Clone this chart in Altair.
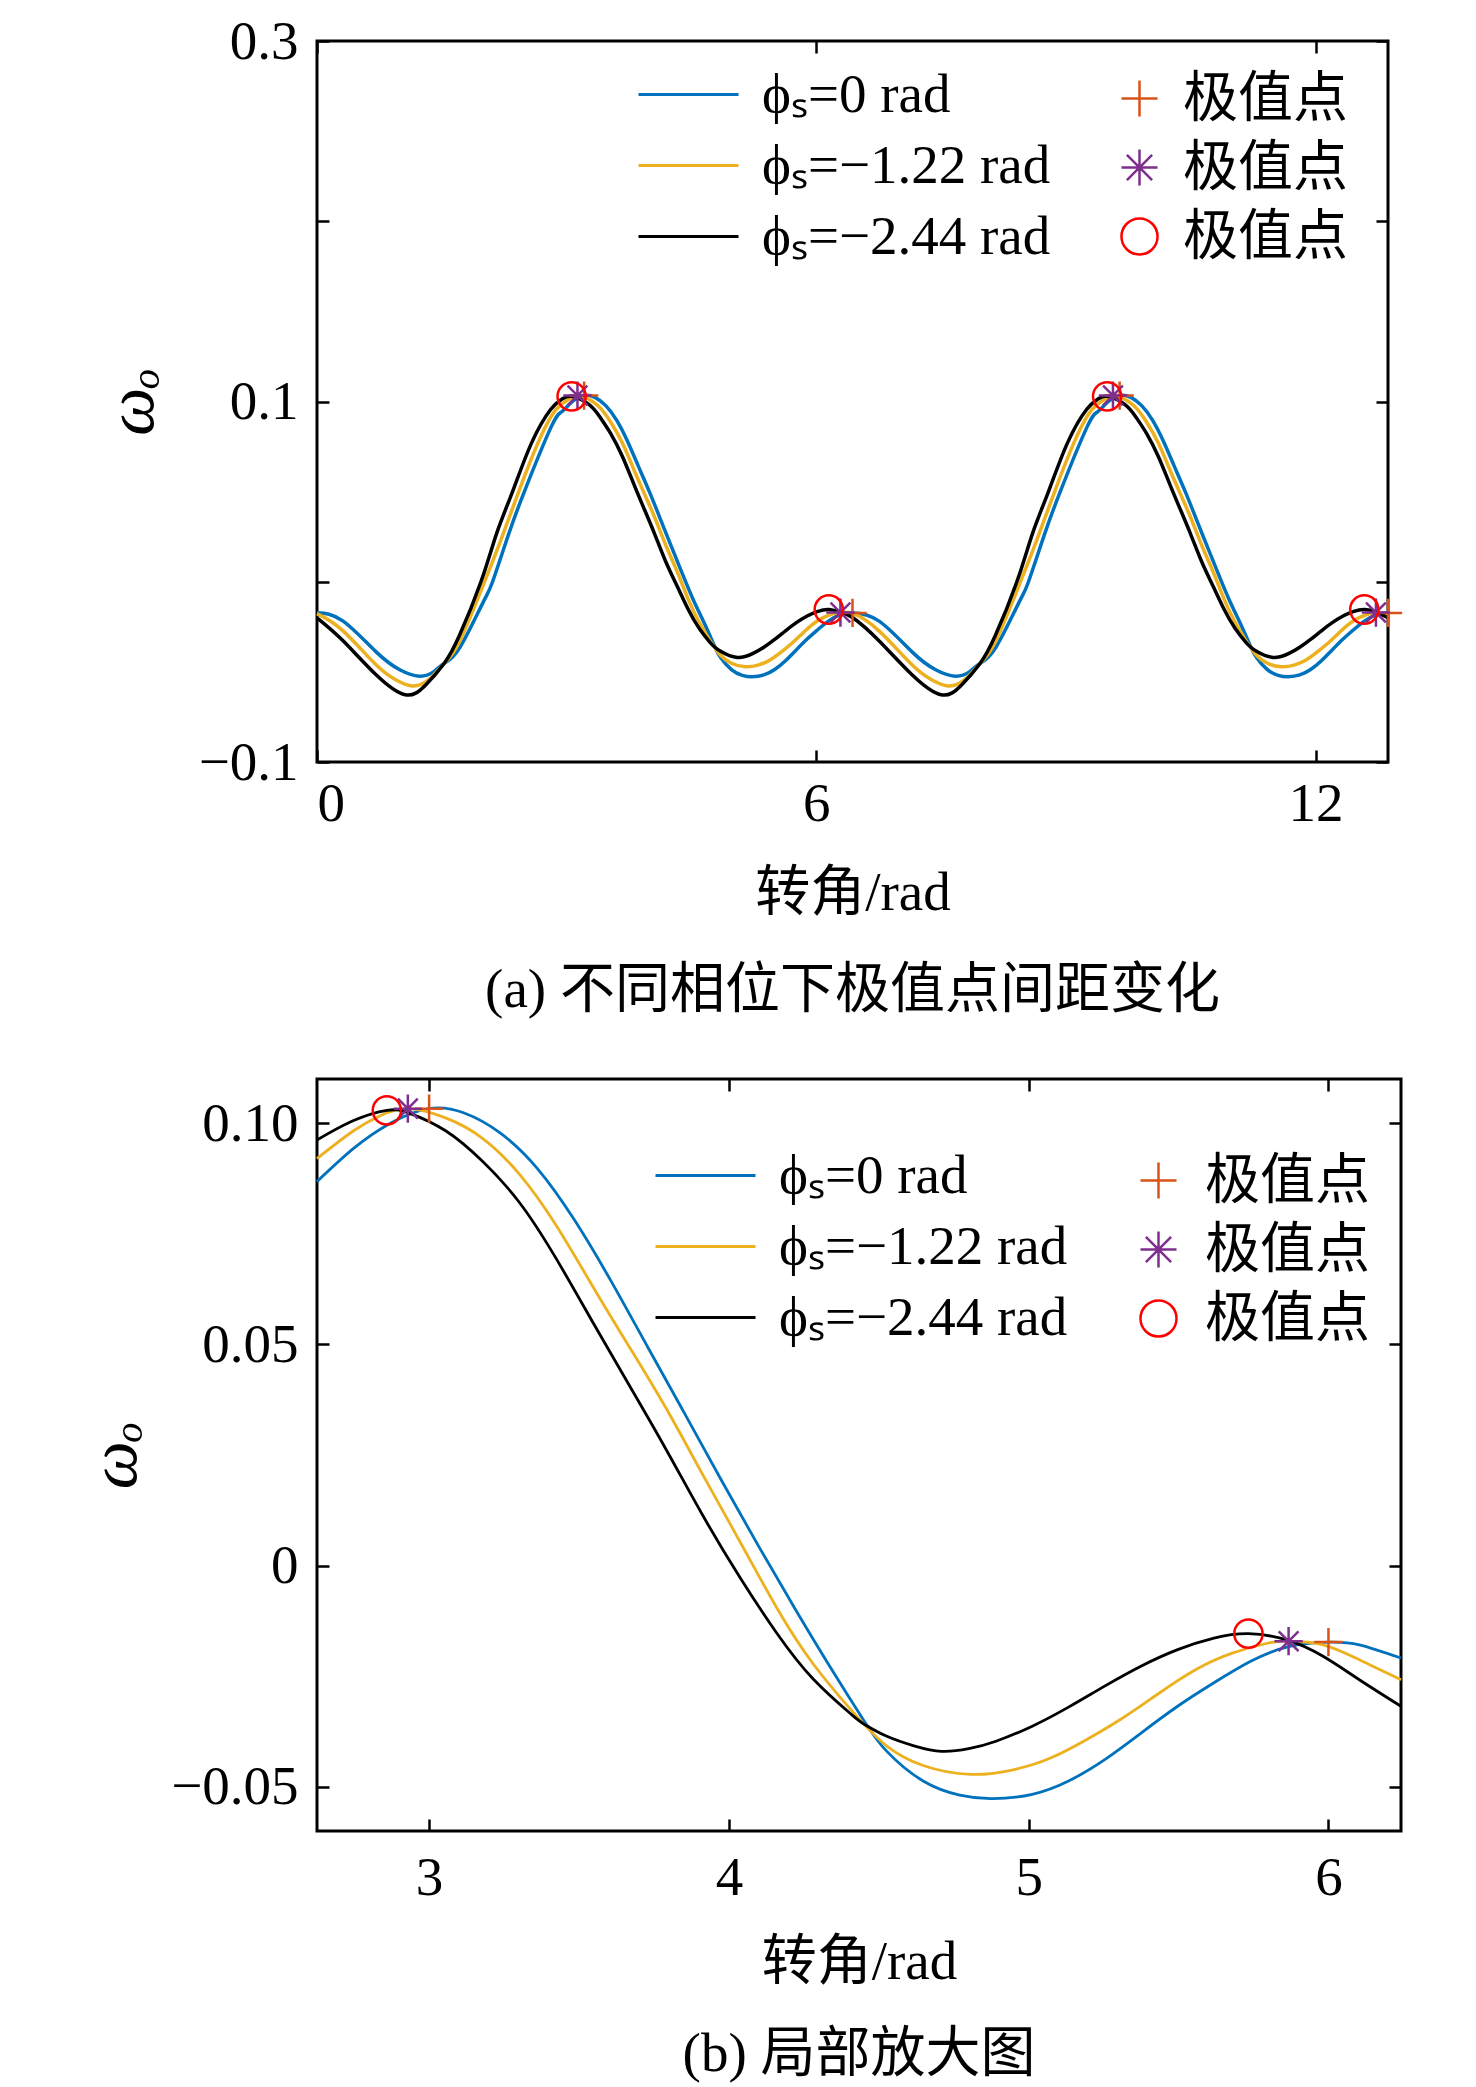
"""
Extreme-point spacing of omega_o for three phase angles:
(a) full range, (b) local zoom. Two stacked MATLAB-style panels.
"""

import altair as alt
import pandas as pd

FONT = "'Liberation Serif', 'Noto Sans CJK SC', serif"
FONT_SIZE = 55
TICK_LEN = 12

SERIES = ["ϕₛ=0 rad", "ϕₛ=−1.22 rad", "ϕₛ=−2.44 rad"]
LINE_COLORS = ["#0072BD", "#EDB120", "#000000"]

MARKERS = ["plus", "star", "circle"]
MARKER_COLORS = ["#D95319", "#7E2F8E", "#FF0000"]
MARKER_SHAPES = [
    "M-1,0L1,0M0,-1L0,1",
    "M-1,0L1,0M0,-1L0,1M-0.7,-0.7L0.7,0.7M-0.7,0.7L0.7,-0.7",
    "circle",
]

# ---------------- panel (a): full range ----------------
A_THETA_BLUE = [0.00, 0.31, 0.71, 1.00, 1.23, 1.40, 1.53, 1.71, 1.99, 2.11, 2.30, 2.50, 2.81, 2.94,
                3.07, 3.21, 3.34, 3.47, 3.60, 3.73, 3.86, 4.00, 4.13, 4.26, 4.39, 4.52, 4.66, 4.77,
                4.85, 4.98, 5.11, 5.23, 5.37, 5.50, 5.63, 5.76, 5.89, 6.02, 6.15, 6.29, 6.44,
                6.75, 7.15, 7.44, 7.67, 7.84, 7.97, 8.15, 8.43, 8.55, 8.74, 8.94, 9.25, 9.38,
                9.51, 9.65, 9.78, 9.91, 10.04, 10.17, 10.30, 10.44, 10.57, 10.70, 10.83, 10.96, 11.10,
                11.21, 11.29, 11.42, 11.55, 11.67, 11.81, 11.94, 12.07, 12.20, 12.33, 12.46, 12.59,
                12.73, 12.87]
A_W_BLUE = [-0.0172, -0.0217, -0.0389, -0.0490, -0.0524, -0.0500, -0.0452, -0.0370, -0.0120, 0.0000,
            0.0260, 0.0510, 0.0855, 0.0943, 0.1000, 0.1033, 0.1023, 0.0977, 0.0897, 0.0781, 0.0643,
            0.0493, 0.0343, 0.0193, 0.0045, -0.0098, -0.0236, -0.0350, -0.0420, -0.0487, -0.0519,
            -0.0527, -0.0517, -0.0487, -0.0438, -0.0378, -0.0318, -0.0265, -0.0217, -0.0183, -0.0173,
            -0.0217, -0.0389, -0.0490, -0.0524, -0.0500, -0.0452, -0.0370, -0.0120, 0.0000,
            0.0260, 0.0510, 0.0855, 0.0943, 0.1000, 0.1033, 0.1023, 0.0977, 0.0897, 0.0781, 0.0643,
            0.0493, 0.0343, 0.0193, 0.0045, -0.0098, -0.0236, -0.0350, -0.0420, -0.0487, -0.0519,
            -0.0527, -0.0517, -0.0487, -0.0438, -0.0378, -0.0318, -0.0265, -0.0217, -0.0183, -0.0173]

A_THETA_YELLOW = [0.00, 0.31, 0.71, 0.95, 1.15, 1.35, 1.53, 1.71, 1.99, 2.20, 2.44, 2.65, 2.81, 2.94,
                  3.13, 3.27, 3.40, 3.53, 3.67, 3.80, 3.93, 4.06, 4.19, 4.33, 4.46, 4.59, 4.72, 4.77,
                  4.85, 4.98, 5.15, 5.31, 5.44, 5.57, 5.70, 5.83, 5.96, 6.09, 6.22, 6.29, 6.44,
                  6.75, 7.15, 7.39, 7.59, 7.79, 7.97, 8.15, 8.43, 8.64, 8.88, 9.09, 9.25, 9.38,
                  9.57, 9.71, 9.84, 9.97, 10.11, 10.24, 10.37, 10.50, 10.63, 10.77, 10.90, 11.03, 11.16,
                  11.21, 11.29, 11.42, 11.59, 11.75, 11.88, 12.01, 12.14, 12.27, 12.40, 12.53, 12.66,
                  12.73, 12.87]
A_W_YELLOW = [-0.0177, -0.0271, -0.0461, -0.0545, -0.0578, -0.0540, -0.0452, -0.0334, -0.0027, 0.0220,
              0.0520, 0.0765, 0.0915, 0.0985, 0.1033, 0.1012, 0.0966, 0.0885, 0.0770, 0.0631, 0.0493,
              0.0355, 0.0204, 0.0054, -0.0096, -0.0223, -0.0325, -0.0358, -0.0408, -0.0452, -0.0472,
              -0.0461, -0.0435, -0.0393, -0.0344, -0.0288, -0.0235, -0.0198, -0.0175, -0.0171, -0.0177,
              -0.0271, -0.0461, -0.0545, -0.0578, -0.0540, -0.0452, -0.0334, -0.0027, 0.0220,
              0.0520, 0.0765, 0.0915, 0.0985, 0.1033, 0.1012, 0.0966, 0.0885, 0.0770, 0.0631, 0.0493,
              0.0355, 0.0204, 0.0054, -0.0096, -0.0223, -0.0325, -0.0358, -0.0408, -0.0452, -0.0472,
              -0.0461, -0.0435, -0.0393, -0.0344, -0.0288, -0.0235, -0.0198, -0.0175, -0.0171, -0.0177]

A_THETA_BLACK = [0.00, 0.31, 0.71, 1.06, 1.30, 1.53, 1.71, 1.97, 2.16, 2.35, 2.58, 2.81, 2.94, 3.06,
                 3.27, 3.40, 3.53, 3.67, 3.80, 3.93, 4.06, 4.19, 4.33, 4.46, 4.59, 4.72, 4.77, 4.85,
                 5.05, 5.24, 5.37, 5.50, 5.63, 5.76, 5.89, 6.02, 6.15, 6.29, 6.44,
                 6.75, 7.15, 7.50, 7.74, 7.97, 8.15, 8.41, 8.60, 8.79, 9.02, 9.25, 9.38, 9.50,
                 9.71, 9.84, 9.97, 10.11, 10.24, 10.37, 10.50, 10.63, 10.77, 10.90, 11.03, 11.16, 11.21,
                 11.29, 11.49, 11.68, 11.81, 11.94, 12.07, 12.20, 12.33, 12.46, 12.59, 12.73, 12.87]
A_W_BLACK = [-0.0200, -0.0326, -0.0516, -0.0627, -0.0575, -0.0452, -0.0300, 0.0000, 0.0270, 0.0500,
             0.0772, 0.0957, 0.1012, 0.1029, 0.0983, 0.0914, 0.0822, 0.0695, 0.0550, 0.0406, 0.0262,
             0.0112, -0.0027, -0.0153, -0.0257, -0.0335, -0.0358, -0.0386, -0.0420, -0.0397, -0.0363,
             -0.0320, -0.0272, -0.0227, -0.0190, -0.0164, -0.0154, -0.0168, -0.0200,
             -0.0326, -0.0516, -0.0627, -0.0575, -0.0452, -0.0300, 0.0000, 0.0270, 0.0500,
             0.0772, 0.0957, 0.1012, 0.1029, 0.0983, 0.0914, 0.0822, 0.0695, 0.0550, 0.0406, 0.0262,
             0.0112, -0.0027, -0.0153, -0.0257, -0.0335, -0.0358, -0.0386, -0.0420, -0.0397, -0.0363,
             -0.0320, -0.0272, -0.0227, -0.0190, -0.0164, -0.0154, -0.0168, -0.0200]

A_PLUS_THETA = [3.21, 6.435, 9.645, 12.87]
A_PLUS_W = [0.1033, -0.0173, 0.1033, -0.0173]
A_STAR_THETA = [3.13, 6.29, 9.565, 12.725]
A_STAR_W = [0.1033, -0.0171, 0.1033, -0.0171]
A_CIRCLE_THETA = [3.06, 6.15, 9.495, 12.585]
A_CIRCLE_W = [0.1029, -0.0154, 0.1029, -0.0154]

A_X_DOMAIN = [0, 12.87]
A_Y_DOMAIN = [-0.1, 0.3]
A_X_TICKS = [0, 6, 12]
A_Y_TICKS = [-0.1, 0, 0.1, 0.2, 0.3]

# ---------------- panel (b): local zoom ----------------
B_THETA_BLUE = [2.626, 2.748, 2.871, 3.000, 3.117, 3.239, 3.362, 3.485, 3.607, 3.730, 3.853, 3.975,
                4.098, 4.221, 4.344, 4.450, 4.527, 4.648, 4.770, 4.879, 5.012, 5.133, 5.255,
                5.376, 5.497, 5.618, 5.739, 5.867, 6.000, 6.103, 6.242]
B_W_BLUE = [0.0868, 0.0943, 0.1000, 0.1033, 0.1023, 0.0977, 0.0897, 0.0781, 0.0643, 0.0493, 0.0343,
            0.0193, 0.0045, -0.0098, -0.0236, -0.0350, -0.0420, -0.0487, -0.0519, -0.0527,
            -0.0517, -0.0487, -0.0438, -0.0378, -0.0318, -0.0265, -0.0217, -0.0183, -0.0173, -0.0179,
            -0.0209]

B_THETA_YELLOW = [2.626, 2.748, 2.840, 2.929, 3.055, 3.178, 3.301, 3.423, 3.546, 3.669, 3.791, 3.914,
                  4.037, 4.160, 4.282, 4.406, 4.450, 4.527, 4.648, 4.806, 4.952, 5.073, 5.194, 5.315,
                  5.436, 5.558, 5.679, 5.800, 5.867, 5.982, 6.103, 6.242]
B_W_YELLOW = [0.0920, 0.0983, 0.1018, 0.1033, 0.1012, 0.0966, 0.0885, 0.0770, 0.0631, 0.0493, 0.0355,
              0.0204, 0.0054, -0.0096, -0.0223, -0.0325, -0.0358, -0.0408, -0.0452, -0.0472, -0.0461,
              -0.0435, -0.0393, -0.0344, -0.0288, -0.0235, -0.0198, -0.0175, -0.0171, -0.0179, -0.0213,
              -0.0258]

B_THETA_BLACK = [2.626, 2.748, 2.859, 2.933, 3.055, 3.178, 3.300, 3.423, 3.546, 3.669, 3.791, 3.914,
                 4.037, 4.160, 4.282, 4.406, 4.450, 4.527, 4.620, 4.709, 4.800, 4.891, 5.012, 5.133,
                 5.255, 5.376, 5.497, 5.618, 5.733, 5.861, 5.982, 6.103, 6.242]
B_W_BLACK = [0.0962, 0.1006, 0.1029, 0.1023, 0.0983, 0.0914, 0.0822, 0.0695, 0.0550, 0.0406, 0.0262,
             0.0112, -0.0027, -0.0153, -0.0257, -0.0335, -0.0358, -0.0386, -0.0408, -0.0420, -0.0414,
             -0.0397, -0.0363, -0.0320, -0.0272, -0.0227, -0.0190, -0.0164, -0.0154, -0.0168, -0.0205,
             -0.0258, -0.0318]

B_PLUS_THETA = [3.000, 6.000]
B_PLUS_W = [0.1033, -0.0173]
B_STAR_THETA = [2.929, 5.867]
B_STAR_W = [0.1033, -0.0171]
B_CIRCLE_THETA = [2.859, 5.733]
B_CIRCLE_W = [0.1029, -0.0154]

B_X_DOMAIN = [2.626, 6.242]
B_Y_DOMAIN = [-0.06, 0.11]
B_X_TICKS = [3, 4, 5, 6]
B_Y_TICKS = [-0.05, 0, 0.05, 0.10]


def long_frame(key: str, names, xs_list, ys_list) -> pd.DataFrame:
    """Stack several (theta, w) series into one long table."""
    parts = [pd.DataFrame({"theta": xs, "w": ys, key: name})
             for name, xs, ys in zip(names, xs_list, ys_list)]
    return pd.concat(parts, ignore_index=True)


TEXT = dict(labelFont=FONT, labelFontSize=FONT_SIZE, labelColor="black",
            titleFont=FONT, titleFontWeight="normal", titleColor="black")
INNER = dict(offset=-TICK_LEN, tickSize=TICK_LEN, tickWidth=2.5, tickColor="black",
             domain=False, grid=False)


def create_panel(lines, marks, x_dom, x_ticks, y_dom, y_ticks, y_expr, width, height,
                 caption, lw, layout) -> alt.LayerChart:
    """One boxed panel with inward ticks on all four sides and an inner legend."""
    x_scale = alt.Scale(domain=x_dom, nice=False, zero=False)
    y_scale = alt.Scale(domain=y_dom, nice=False, zero=False)

    x_bottom = alt.Axis(orient="bottom", values=x_ticks, format="d", labelPadding=layout["xlab"],
                        title="转角/rad", titleFontSize=FONT_SIZE, titlePadding=layout["xtitle"],
                        **INNER, **TEXT)
    y_left = alt.Axis(orient="left", values=y_ticks, labelExpr=y_expr, labelPadding=19,
                      title="ωₒ", titleFontSize=68, titleFontStyle="italic",
                      titlePadding=layout["ytitle"], **INNER, **TEXT)
    x_top = alt.Axis(orient="top", values=x_ticks, labels=False, title=None, **INNER)
    y_right = alt.Axis(orient="right", values=y_ticks, labels=False, title=None, **INNER)

    line_legend = alt.Legend(title=None, orient="none", legendX=layout["lx"], legendY=layout["lly"],
                             symbolType="stroke", symbolSize=10000, symbolStrokeWidth=3,
                             clipHeight=55, labelFont=FONT, labelFontSize=FONT_SIZE,
                             labelColor="black", labelOffset=22, rowPadding=15, padding=0,
                             labelLimit=600)
    mark_legend = alt.Legend(title=None, orient="none", legendX=layout["mx"], legendY=layout["mly"],
                             symbolSize=1300, symbolStrokeWidth=2.5, labelExpr="'极值点'",
                             labelFont=FONT, labelFontSize=FONT_SIZE, labelColor="black",
                             labelOffset=layout["moff"], rowPadding=13, padding=0, labelLimit=600)

    line_layer = alt.Chart(lines).mark_line(interpolate="natural", strokeWidth=lw).encode(
        x=alt.X("theta:Q", scale=x_scale, axis=x_bottom),
        y=alt.Y("w:Q", scale=y_scale, axis=y_left),
        color=alt.Color("series:N", scale=alt.Scale(domain=SERIES, range=LINE_COLORS),
                        legend=line_legend),
    )

    mark_layer = alt.Chart(marks).mark_point(filled=False, size=800, strokeWidth=2.5, opacity=1).encode(
        x=alt.X("theta:Q", scale=x_scale, axis=x_top),
        y=alt.Y("w:Q", scale=y_scale, axis=y_right),
        shape=alt.Shape("marker:N", scale=alt.Scale(domain=MARKERS, range=MARKER_SHAPES),
                        legend=mark_legend),
        color=alt.Color("marker:N", scale=alt.Scale(domain=MARKERS, range=MARKER_COLORS),
                        legend=mark_legend),
    )

    return alt.layer(line_layer, mark_layer).resolve_scale(
        color="independent", shape="independent"
    ).resolve_axis(
        x="independent", y="independent"
    ).properties(
        width=width,
        height=height,
        title=alt.TitleParams(caption, orient="bottom", anchor="middle", frame="group",
                              font=FONT, fontSize=FONT_SIZE, fontWeight="normal", color="black",
                              offset=layout["cap"]),
    )


lines_a = long_frame("series", SERIES, [A_THETA_BLUE, A_THETA_YELLOW, A_THETA_BLACK],
                     [A_W_BLUE, A_W_YELLOW, A_W_BLACK])
marks_a = long_frame("marker", MARKERS, [A_PLUS_THETA, A_STAR_THETA, A_CIRCLE_THETA],
                     [A_PLUS_W, A_STAR_W, A_CIRCLE_W])
lines_b = long_frame("series", SERIES, [B_THETA_BLUE, B_THETA_YELLOW, B_THETA_BLACK],
                     [B_W_BLUE, B_W_YELLOW, B_W_BLACK])
marks_b = long_frame("marker", MARKERS, [B_PLUS_THETA, B_STAR_THETA, B_CIRCLE_THETA],
                     [B_PLUS_W, B_STAR_W, B_CIRCLE_W])

panel_a = create_panel(
    lines_a, marks_a, A_X_DOMAIN, A_X_TICKS, A_Y_DOMAIN, A_Y_TICKS,
    "datum.value == 0 || datum.value == 0.2 ? '' : format(datum.value, '.1f')",
    1071, 721, "(a) 不同相位下极值点间距变化", 3.5,
    dict(xlab=15, xtitle=35, ytitle=32, cap=44, lx=320, lly=26, mx=795, mly=30, moff=16),
)
panel_b = create_panel(
    lines_b, marks_b, B_X_DOMAIN, B_X_TICKS, B_Y_DOMAIN, B_Y_TICKS,
    "datum.value == 0 ? '0' : format(datum.value, '.2f')",
    1084, 752, "(b) 局部放大图", 2.8,
    dict(xlab=20, xtitle=30, ytitle=21, cap=39, lx=337, lly=69, mx=814, mly=74, moff=19),
)

chart = alt.vconcat(panel_a, panel_b, spacing=56).properties(
    padding={"left": 72, "top": 4, "right": 10, "bottom": 0},
).configure(
    background="white"
).configure_view(
    stroke="black", strokeWidth=3
)

chart.save("out.html", embed_options={"renderer": "svg", "actions": False})
